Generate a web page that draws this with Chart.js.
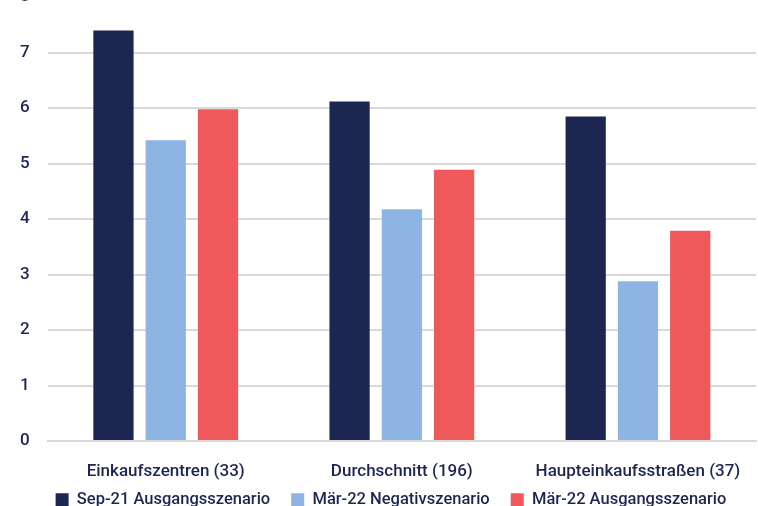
<!DOCTYPE html>
<html>
<head>
<meta charset="utf-8">
<script src="https://cdn.jsdelivr.net/npm/chart.js@4/dist/chart.umd.min.js"></script>
<style>
  html, body { margin: 0; padding: 0; background: #fff; overflow: hidden; }
  #wrap { position: absolute; left: 0; top: -31px; width: 758px; height: 572px; }
</style>
</head>
<body>
<div id="wrap"><canvas id="barChart" width="758" height="572"></canvas></div>
<script>
const categories = ["Einkaufszentren (33)", "Durchschnitt (196)", "Haupteinkaufsstraßen (37)"];
const seriesNames = ["Sep-21 Ausgangsszenario", "Mär-22 Negativszenario", "Mär-22 Ausgangsszenario"];
const sep21Basis = [7.40, 6.12, 5.85];
const mar22Negativ = [5.42, 4.18, 2.88];
const mar22Basis = [5.98, 4.89, 3.79];
const yTicks = [0, 1, 2, 3, 4, 5, 6, 7, 8];

const navy = "#1c2651";
const colors = ["#1c2651", "#8db4e2", "#f0595c"];
const values = [sep21Basis, mar22Negativ, mar22Basis];

Chart.defaults.font.family = "Roboto, 'DejaVu Sans', sans-serif";
Chart.defaults.font.size = 17;
Chart.defaults.color = navy;

// pull the legend up closer to the category labels, and a bit to the right
const legendLift = {
  id: "legendLift",
  afterLayout(chart) {
    const lg = chart.legend;
    lg.top -= 23;
    lg.bottom -= 23;
    lg.left += 24;
  }
};

var ctx = document.getElementById("barChart").getContext("2d");
var chart = new Chart(ctx, {
  type: "bar",
  data: {
    labels: categories,
    datasets: seriesNames.map((name, i) => ({
      label: name,
      data: values[i],
      backgroundColor: colors[i],
      borderWidth: 0,
      categoryPercentage: 0.664,
      barPercentage: 0.77
    }))
  },
  options: {
    responsive: false,
    animation: false,
    layout: { padding: { left: 2, right: 2, top: 12, bottom: 0 } },
    plugins: {
      tooltip: { enabled: false },
      legend: {
        display: true,
        position: "bottom",
        labels: {
          boxWidth: 13,
          boxHeight: 13,
          padding: 21,
          color: navy,
          font: { size: 16.5, weight: "500" }
        }
      }
    },
    scales: {
      x: {
        grid: { display: false },
        border: { color: "#d9d9d9", width: 2 },
        ticks: { color: navy, padding: 12, font: { size: 17, weight: "500" } }
      },
      y: {
        min: 0,
        max: 8,
        afterBuildTicks: axis => { axis.ticks = yTicks.map(v => ({ value: v })); },
        grid: { color: "#d9d9d9", lineWidth: 2, drawTicks: false },
        border: { display: false },
        ticks: { color: navy, padding: 18, font: { size: 17, weight: "500" } }
      }
    }
  },
  plugins: [legendLift]
});
</script>
</body>
</html>
